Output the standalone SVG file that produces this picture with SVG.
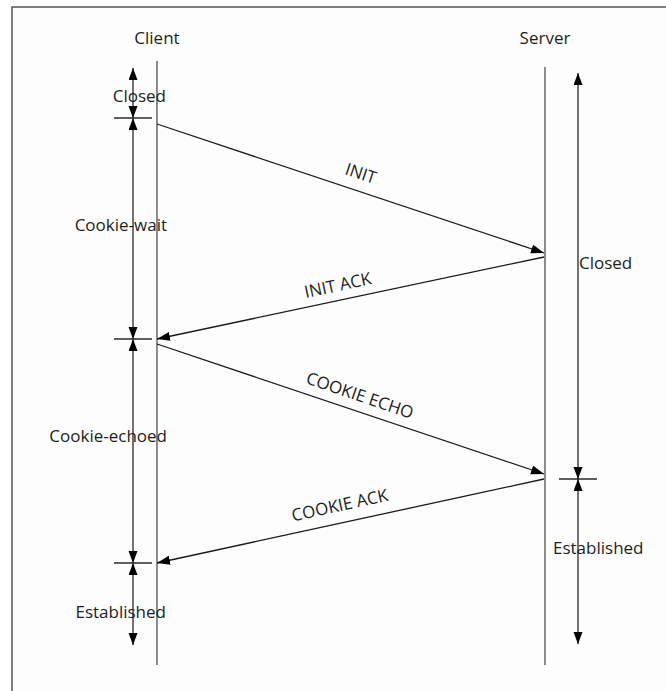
<svg xmlns="http://www.w3.org/2000/svg" width="666" height="691" viewBox="0 0 666 691">
<style>
text{font-family:"Open Sans","DejaVu Sans",sans-serif;font-size:17px;fill:#1e1e1e}
.life{stroke:#707070;stroke-width:1.6;fill:none}
.state{stroke:#2a2a2a;stroke-width:1.3;fill:none;marker-start:url(#ah);marker-end:url(#ah)}
.tick{stroke:#2a2a2a;stroke-width:1.3}
.msg{stroke:#1a1a1a;stroke-width:1.3;fill:none;marker-end:url(#mh)}
</style>
<defs>
<marker id="ah" markerUnits="userSpaceOnUse" markerWidth="12" markerHeight="10" refX="12" refY="4.5" orient="auto-start-reverse"><path d="M0,0 L12,4.5 L0,9 z" fill="#000"/></marker>
<marker id="mh" markerUnits="userSpaceOnUse" markerWidth="14" markerHeight="10" refX="13" refY="4.5" orient="auto"><path d="M0,0 L13,4.5 L0,9 z" fill="#000"/></marker>
</defs>
<rect x="0" y="0" width="666" height="691" fill="#ffffff"/>
<rect x="12" y="7" width="670" height="700" fill="#fdfdfd" stroke="#555" stroke-width="1.5"/>
<g id="client">
<text x="157" y="44" text-anchor="middle">Client</text>
<line class="life" x1="157" y1="61" x2="157" y2="665"/>
</g>
<g id="server">
<text x="545" y="44" text-anchor="middle">Server</text>
<line class="life" x1="545" y1="67" x2="545" y2="665"/>
</g>
<g id="client-states">
<line class="tick" x1="114" y1="118" x2="152" y2="118"/>
<line class="tick" x1="114" y1="339" x2="152" y2="339"/>
<line class="tick" x1="114" y1="563" x2="152" y2="563"/>
<line class="state" x1="133" y1="68" x2="133" y2="118"/>
<line class="state" x1="133" y1="118" x2="133" y2="339"/>
<line class="state" x1="133" y1="339" x2="133" y2="563"/>
<line class="state" x1="133" y1="563" x2="133" y2="645"/>
<text x="166" y="102" text-anchor="end">Closed</text>
<text x="167" y="231" text-anchor="end">Cookie-wait</text>
<text x="167" y="442" text-anchor="end">Cookie-echoed</text>
<text x="166" y="618" text-anchor="end">Established</text>
</g>
<g id="server-states">
<line class="tick" x1="559" y1="479" x2="597" y2="479"/>
<line class="state" x1="578" y1="73" x2="578" y2="479"/>
<line class="state" x1="578" y1="479" x2="578" y2="644"/>
<text x="579" y="269">Closed</text>
<text x="553" y="554">Established</text>
</g>
<g id="connectors">
<line class="msg" x1="157" y1="124" x2="544" y2="253"/>
<line class="msg" x1="544" y1="257" x2="157" y2="339"/>
<line class="msg" x1="157" y1="344" x2="544" y2="474"/>
<line class="msg" x1="544" y1="479" x2="157" y2="563"/>
<text x="359" y="179" text-anchor="middle" transform="rotate(18.4 359 179)">INIT</text>
<text x="339" y="291" text-anchor="middle" transform="rotate(-12 339 291)">INIT ACK</text>
<text x="358" y="401" text-anchor="middle" transform="rotate(18.6 358 401)">COOKIE ECHO</text>
<text x="341" y="511" text-anchor="middle" transform="rotate(-12.25 341 511)">COOKIE ACK</text>
</g>
</svg>
